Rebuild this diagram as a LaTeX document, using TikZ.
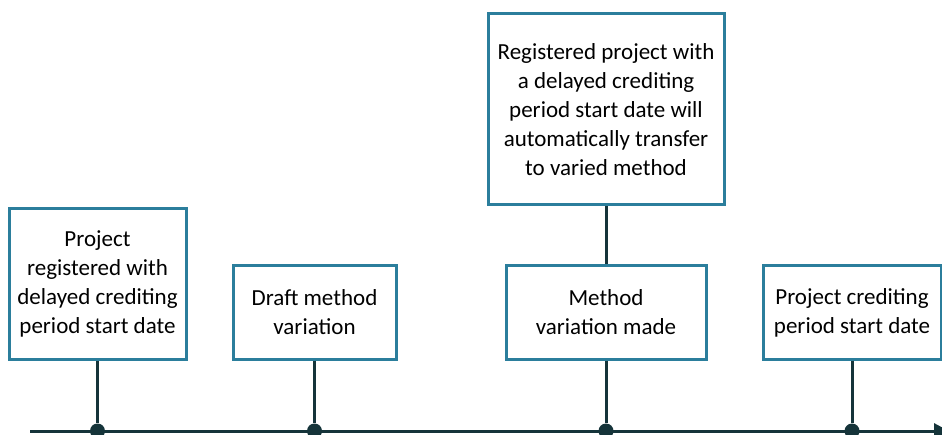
\documentclass[tikz,border=0pt]{standalone}
\usepackage{fontspec}
\setmainfont{Carlito}
\usepackage{tikz}
\usetikzlibrary{arrows.meta}
\definecolor{boxblue}{HTML}{2B7E9C}
\definecolor{linedark}{HTML}{15343A}

\begin{document}
\begin{tikzpicture}[x=1pt, y=1pt,
    eventbox/.style={draw=boxblue, line width=3pt, fill=white, align=center,
        inner sep=0pt, font=\fontsize{23}{29}\selectfont},
    stem/.style={draw=linedark, line width=3pt},
    tick/.style={circle, fill=linedark, inner sep=0pt, minimum size=15pt}]
    \useasboundingbox (0,0) rectangle (942,434);

    % Timeline
    \coordinate (tlstart) at (30,3);
    \coordinate (tlend) at (949,3);
    \draw[stem, -{Triangle[length=15pt, width=15pt]}] (tlstart) -- (tlend);

    % Event boxes
    \node[eventbox, minimum width=177pt, minimum height=150pt] (reg) at (97.5,150) {Project\\registered with\\delayed crediting\\period start date};
    \node[eventbox, minimum width=163pt, minimum height=93pt] (draft) at (314.5,121.5) {Draft method\\variation};
    \node[eventbox, minimum width=200pt, minimum height=93pt] (made) at (606,121.5) {Method\\variation made};
    \node[eventbox, minimum width=236pt, minimum height=191pt] (transfer) at (606,324.5) {Registered project with\\a delayed crediting\\period start date will\\automatically transfer\\to varied method};
    \node[eventbox, minimum width=178pt, minimum height=93pt] (start) at (852,121.5) {Project crediting\\period start date};

    % Ticks on the timeline
    \node[tick] (t1) at (97.5,3) {};
    \node[tick] (t2) at (314.5,3) {};
    \node[tick] (t3) at (606,3) {};
    \node[tick] (t4) at (852,3) {};

    % Stems
    \draw[stem] (reg) -- (t1);
    \draw[stem] (draft) -- (t2);
    \draw[stem] (made) -- (t3);
    \draw[stem] (start) -- (t4);
    \draw[stem] (transfer) -- (made);
\end{tikzpicture}
\end{document}
